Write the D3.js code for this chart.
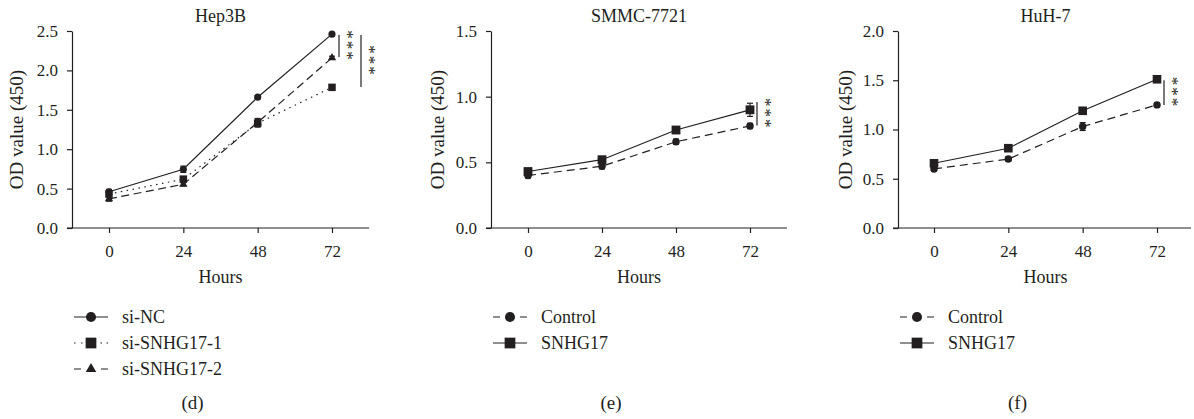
<!DOCTYPE html>
<html>
<head>
<meta charset="utf-8">
<script src="https://cdn.jsdelivr.net/npm/d3@7"></script>
<style>
  body { margin: 0; background: #fff; }
  svg { display: block; }
  text { font-family: "Liberation Serif", "DejaVu Serif", serif; fill: #231f20; }
</style>
</head>
<body>
<div id="chart"></div>
<script>
(function cck8() {

  // ---- data ----
  var hours = [0, 24, 48, 72];

  var hep3bNC = [0.46, 0.745, 1.66, 2.46];
  var hep3bSi1 = [0.43, 0.62, 1.33, 1.785];
  var hep3bSi2 = [0.37, 0.555, 1.34, 2.16];
  var hep3bNCErr = [0.03, 0.04, 0.02, 0.01];
  var hep3bSi1Err = [0.03, 0.03, 0.05, 0.02];
  var hep3bSi2Err = [0.03, 0.02, 0.05, 0.02];

  var smmcControl = [0.40, 0.47, 0.657, 0.777];
  var smmcSNHG17 = [0.43, 0.52, 0.746, 0.90];
  var smmcControlErr = [0.02, 0.02, 0.02, 0.02];
  var smmcSNHG17Err = [0.02, 0.02, 0.02, 0.05];

  var huhControl = [0.60, 0.70, 1.03, 1.25];
  var huhSNHG17 = [0.657, 0.81, 1.19, 1.51];
  var huhControlErr = [0.02, 0.02, 0.04, 0.02];
  var huhSNHG17Err = [0.02, 0.02, 0.02, 0.02];

  var hep3bTicks = [0, 0.5, 1.0, 1.5, 2.0, 2.5];
  var smmcTicks = [0, 0.5, 1.0, 1.5];
  var huhTicks = [0, 0.5, 1.0, 1.5, 2.0];

  // significance brackets: [top, bottom] in OD units
  var hep3bSig = [[2.45, 2.17], [2.45, 1.79]];
  var smmcSig = [[0.96, 0.78]];
  var huhSig = [[1.50, 1.25]];

  var width = 1194,
    height = 419;

  var svg = d3.select('#chart')
    .append('svg')
    .attr('width', width)
    .attr('height', height);

  var panels = [
    {
      title: 'Hep3B', tag: '(d)', yTicks: hep3bTicks, yMax: 2.5,
      axisX: 72, x0: 109, x72: 332, ylabX: 16, sig: hep3bSig,
      series: [
        { name: 'si-NC', values: hep3bNC, err: hep3bNCErr, symbol: d3.symbolCircle, size: 40, lsize: 80, dash: null, legendDash: null },
        { name: 'si-SNHG17-1', values: hep3bSi1, err: hep3bSi1Err, symbol: d3.symbolSquare, size: 56, lsize: 115, dash: '1.5,4.5', legendDash: '1.5,5.5,1.5,18,1.5,4.5,1.5,100' },
        { name: 'si-SNHG17-2', values: hep3bSi2, err: hep3bSi2Err, symbol: d3.symbolTriangle, size: 30, lsize: 48, dash: '8,4.5', legendDash: '7,20,8,100' }
      ]
    },
    {
      title: 'SMMC-7721', tag: '(e)', yTicks: smmcTicks, yMax: 1.5,
      axisX: 491, x0: 528, x72: 750, ylabX: 437, sig: smmcSig,
      series: [
        { name: 'Control', values: smmcControl, err: smmcControlErr, symbol: d3.symbolCircle, size: 44, lsize: 80, dash: '8,5', legendDash: '7,20,8,100' },
        { name: 'SNHG17', values: smmcSNHG17, err: smmcSNHG17Err, symbol: d3.symbolSquare, size: 78, lsize: 115, dash: null, legendDash: null }
      ]
    },
    {
      title: 'HuH-7', tag: '(f)', yTicks: huhTicks, yMax: 2.0,
      axisX: 898, x0: 934, x72: 1157, ylabX: 845, sig: huhSig,
      series: [
        { name: 'Control', values: huhControl, err: huhControlErr, symbol: d3.symbolCircle, size: 44, lsize: 80, dash: '8,5', legendDash: '7,20,8,100' },
        { name: 'SNHG17', values: huhSNHG17, err: huhSNHG17Err, symbol: d3.symbolSquare, size: 74, lsize: 115, dash: null, legendDash: null }
      ]
    }
  ];

  var ink = '#231f20';
  var plotTop = 31,
    plotBottom = 228;

  panels.forEach(function(p) {

    var x = d3.scaleLinear().domain([0, 72]).range([p.x0, p.x72]);
    var y = d3.scaleLinear().domain([0, p.yMax]).range([plotBottom, plotTop]);
    var g = svg.append('g');

    // y axis
    var yAxis = g.append('g')
      .attr('transform', 'translate(' + p.axisX + ',0)')
      .call(d3.axisLeft(y).tickValues(p.yTicks).tickSize(5).tickSizeOuter(0).tickPadding(9)
        .tickFormat(d3.format('.1f')));
    yAxis.selectAll('text').style('font-size', '17px').attr('font-family', null);

    // x axis
    var xAxis = g.append('g')
      .attr('transform', 'translate(0,' + plotBottom + ')')
      .call(d3.axisBottom(x).tickValues(hours).tickSize(5).tickSizeOuter(0).tickPadding(12));
    xAxis.select('.domain').attr('d', 'M' + (p.axisX - 5) + ',0H' + Math.min(x(84), 1191));
    xAxis.selectAll('text').style('font-size', '17px').attr('font-family', null);

    g.selectAll('.domain, .tick line').attr('stroke', ink).attr('stroke-width', 1.2);

    var mid = (p.x0 + p.x72) / 2;

    g.append('text')
      .attr('x', mid).attr('y', 22)
      .attr('text-anchor', 'middle')
      .style('font-size', '18px')
      .text(p.title);

    g.append('text')
      .attr('x', mid).attr('y', 283)
      .attr('text-anchor', 'middle')
      .style('font-size', '18px')
      .text('Hours');

    g.append('text')
      .attr('transform', 'translate(' + p.ylabX + ',' + (plotTop + plotBottom) / 2 + ') rotate(-90)')
      .attr('text-anchor', 'middle')
      .attr('dy', '0.35em')
      .style('font-size', '19px')
      .text('OD value (450)');

    // lines, error bars, markers
    var line = d3.line()
      .x(function(d, i) { return x(hours[i]); })
      .y(function(d) { return y(d); });

    p.series.forEach(function(s) {
      g.append('path')
        .datum(s.values)
        .attr('d', line)
        .attr('fill', 'none')
        .attr('stroke', ink)
        .attr('stroke-width', 1.2)
        .attr('stroke-dasharray', s.dash);

      var eb = g.selectAll(null)
        .data(s.values)
        .enter()
        .append('g')
        .attr('stroke', ink)
        .attr('stroke-width', 1.2);
      eb.append('line')
        .attr('x1', function(d, i) { return x(hours[i]); })
        .attr('x2', function(d, i) { return x(hours[i]); })
        .attr('y1', function(d, i) { return y(d + s.err[i]); })
        .attr('y2', function(d, i) { return y(d - s.err[i]); });
      eb.append('line')
        .attr('x1', function(d, i) { return x(hours[i]) - 3; })
        .attr('x2', function(d, i) { return x(hours[i]) + 3; })
        .attr('y1', function(d, i) { return y(d + s.err[i]); })
        .attr('y2', function(d, i) { return y(d + s.err[i]); });
      eb.append('line')
        .attr('x1', function(d, i) { return x(hours[i]) - 3; })
        .attr('x2', function(d, i) { return x(hours[i]) + 3; })
        .attr('y1', function(d, i) { return y(d - s.err[i]); })
        .attr('y2', function(d, i) { return y(d - s.err[i]); });

      g.selectAll(null)
        .data(s.values)
        .enter()
        .append('path')
        .attr('d', d3.symbol().type(s.symbol).size(s.size))
        .attr('transform', function(d, i) {
          return 'translate(' + x(hours[i]) + ',' + y(d) + ')';
        })
        .attr('fill', ink);
    });

    // significance brackets; the three stars are one text run turned upright
    p.sig.forEach(function(b, k) {
      var bx = x(72) + 7 + k * 22;
      g.append('line')
        .attr('x1', bx).attr('x2', bx)
        .attr('y1', y(b[0])).attr('y2', y(b[1]))
        .attr('stroke', ink)
        .attr('stroke-width', 1.2);
      var cy = (y(b[0]) + y(b[1])) / 2;
      g.append('text')
        .attr('transform', 'translate(' + (bx + 11) + ',' + cy + ') rotate(90)')
        .attr('text-anchor', 'middle')
        .attr('dy', '0.5em')
        .style('font-size', '17px')
        .style('letter-spacing', '2px')
        .text('***');
    });

    // legend
    var lx = p.axisX + 2;
    var legend = g.selectAll('.legend')
      .data(p.series)
      .enter()
      .append('g')
      .attr('class', 'legend')
      .attr('transform', function(d, i) {
        return 'translate(' + lx + ',' + (317 + i * 26) + ')';
      });

    legend.append('line')
      .attr('x1', 0).attr('x2', 34)
      .attr('stroke', ink)
      .attr('stroke-width', 1.2)
      .attr('stroke-dasharray', function(d) { return d.legendDash; });

    legend.append('path')
      .attr('d', function(d) { return d3.symbol().type(d.symbol).size(d.lsize)(); })
      .attr('transform', 'translate(17,0)')
      .attr('fill', ink);

    legend.append('text')
      .attr('x', 48)
      .attr('dy', '0.33em')
      .style('font-size', '18px')
      .text(function(d) { return d.name; });

    g.append('text')
      .attr('x', mid - 28).attr('y', 409)
      .attr('text-anchor', 'middle')
      .style('font-size', '19px')
      .text(p.tag);
  });
})();
</script>
</body>
</html>
